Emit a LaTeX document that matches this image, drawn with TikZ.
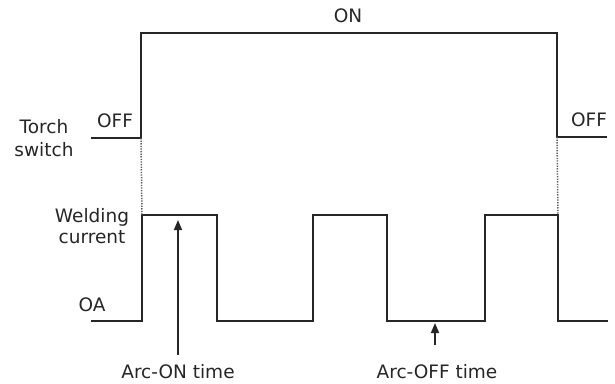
\documentclass[tikz,border=0pt]{standalone}
\usepackage{fontspec}
\setmainfont{DejaVu Sans}
\usetikzlibrary{arrows.meta}
\definecolor{ink}{HTML}{262626}
\begin{document}
\begin{tikzpicture}[x=1pt,y=-1pt,
  wave/.style={line width=1.8pt, draw=ink, line join=miter},
  guide/.style={line width=1.5pt, draw=ink!75, dash pattern=on 1.3pt off 1.3pt},
  lbl/.style={font=\fontsize{18.5}{22}\selectfont, inner sep=0pt, text=ink},
  ptr/.style={line width=1.6pt, draw=ink, -{Triangle[length=10pt,width=8pt]}}]
\useasboundingbox (0,0) rectangle (615,383);
% torch switch signal
\coordinate (t0) at (91,138);
\coordinate (t1) at (141,138);
\coordinate (t2) at (141,33);
\coordinate (t3) at (557,33);
\coordinate (t4) at (557,137);
\coordinate (t5) at (607,137);
\draw[wave] (t0) -- (t1) -- (t2) -- (t3) -- (t4) -- (t5);
% welding current signal
\coordinate (c0) at (91,321);
\coordinate (c1) at (142,321);
\coordinate (c2) at (142,215);
\coordinate (c3) at (217,215);
\coordinate (c4) at (217,321);
\coordinate (c5) at (313,321);
\coordinate (c6) at (313,215);
\coordinate (c7) at (387,215);
\coordinate (c8) at (387,321);
\coordinate (c9) at (485,321);
\coordinate (c10) at (485,215);
\coordinate (c11) at (558,215);
\coordinate (c12) at (558,321);
\coordinate (c13) at (608,321);
\draw[wave] (c0) -- (c1) -- (c2) -- (c3) -- (c4) -- (c5) -- (c6) -- (c7) -- (c8) -- (c9) -- (c10) -- (c11) -- (c12) -- (c13);
% dotted guides
\draw[guide] (t1) -- (c2);
\draw[guide] (t4) -- (c11);
% labels
\node[lbl, anchor=base] (on) at (348,22) {ON};
\node[lbl, anchor=base] (offl) at (115,127) {OFF};
\node[lbl, anchor=base] (offr) at (589,126) {OFF};
\node[lbl, align=center] (torch) at (44,138) {Torch\\[1pt]switch};
\node[lbl, align=center] (weld) at (92,226) {Welding\\[-1pt]current};
\node[lbl, anchor=base] (oa) at (92,311) {OA};
\node[lbl, anchor=base] (arcon) at (178,378) {Arc-ON time};
\node[lbl, anchor=base] (arcoff) at (437,378) {Arc-OFF time};
% pointers
\coordinate (onTip) at (178,220);
\coordinate (offTip) at (435,323);
\draw[ptr] (arcon.north -| onTip) ++(0,-9) -- (onTip);
\draw[ptr] (arcoff.north -| offTip) ++(0,-19) -- (offTip);
\end{tikzpicture}
\end{document}
